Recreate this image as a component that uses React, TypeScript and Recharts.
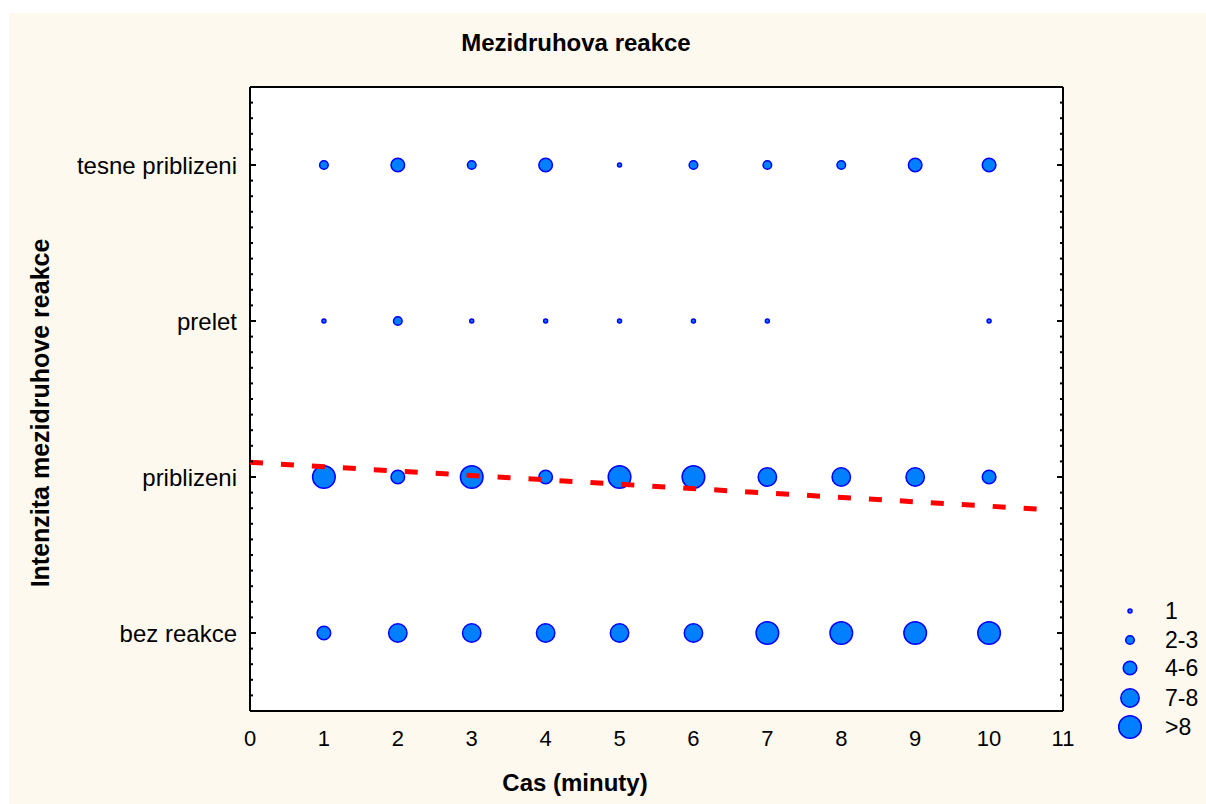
import React from 'react';
import { ScatterChart, Scatter, XAxis, YAxis, CartesianGrid } from 'recharts';

// ---------- data ----------
const minutes = [1, 2, 3, 4, 5, 6, 7, 8, 9, 10];
const categories = ['bez reakce', 'priblizeni', 'prelet', 'tesne priblizeni'];
// size class of each bubble (number of observations), per minute
const bezReakce = ['4-6', '7-8', '7-8', '7-8', '7-8', '7-8', '>8', '>8', '>8', '>8'];
const priblizeni = ['>8', '4-6', '>8', '4-6', '>8', '>8', '7-8', '7-8', '7-8', '4-6'];
const prelet = ['1', '2-3', '1', '1', '1', '1', '1', null, null, '1'];
const tesnePriblizeni = ['2-3', '4-6', '2-3', '4-6', '1', '2-3', '2-3', '2-3', '4-6', '4-6'];
const sizeClasses = ['1', '2-3', '4-6', '7-8', '>8'];
const xTicks = [0, 1, 2, 3, 4, 5, 6, 7, 8, 9, 10, 11];
const yTicks = [0, 1, 2, 3];
const trendX = [0, 10.75];
const trendY = [1.094, 0.792];

// ---------- derived ----------
const rows = [bezReakce, priblizeni, prelet, tesnePriblizeni];
const points = rows.flatMap((row, yi) =>
  row
    .map((cls, i) => (cls ? { x: minutes[i], y: yi, cls } : null))
    .filter((p) => p !== null)
);
const trend = trendX.map((x, i) => ({ x, y: trendY[i] }));
const xMinor = Array.from({ length: 45 }, (_, i) => i * 0.25);
const yMinor = Array.from({ length: 41 }, (_, i) => Math.round((-0.5 + i * 0.1) * 10) / 10);

const RADIUS: Record<string, number> = { '1': 2, '2-3': 4.3, '4-6': 6.8, '7-8': 9.2, '>8': 11.3 };
const FILL = '#0080ff';
const STROKE = '#0000ff';
const FONT = '"Liberation Sans", Arial, sans-serif';

const Bubble = (props: any) => {
  const { cx, cy, payload } = props;
  if (cx == null || cy == null) return <g />;
  const r = RADIUS[payload.cls];
  return <circle cx={cx} cy={cy} r={r} fill={FILL} stroke={STROKE} strokeWidth={1.5} />;
};

const tickLen = (v: number) => (Math.abs(v - Math.round(v)) < 1e-6 ? 6 : 3);

// inward tick marks drawn from the axis line position
const makeTick = (side: 'bottom' | 'top' | 'left' | 'right') => (p: any) => {
  const v = p.payload?.value ?? 0;
  const len = tickLen(v);
  const x = p.x;
  const y = p.y;
  let x2 = x;
  let y2 = y;
  if (side === 'bottom') y2 = y - len;
  if (side === 'top') y2 = y + len;
  if (side === 'left') x2 = x + len;
  if (side === 'right') x2 = x - len;
  return <line x1={x} y1={y} x2={x2} y2={y2} stroke="#000" strokeWidth={2} />;
};

const tickStyleX = { fill: '#000', fontSize: 22, fontFamily: FONT };
const tickStyleY = { fill: '#000', fontSize: 24, fontFamily: FONT };
const axisLineStyle = { stroke: '#000', strokeWidth: 2 };

export default function App() {
  return (
    <div style={{ position: 'absolute', left: 0, top: 0, width: 1206, height: 804, background: '#ffffff', overflow: 'hidden' }}>
      <div style={{ position: 'absolute', left: 9, top: 13, width: 1197, height: 791, background: '#fdf9ef' }} />
      <div style={{ position: 'absolute', left: 0, top: 0 }}>
        <ScatterChart width={1206} height={804} margin={{ top: 87, right: 143, bottom: 0, left: 10 }}>
          <CartesianGrid xAxisId="main" yAxisId="main" fill="#ffffff" horizontal={false} vertical={false} />
          <XAxis
            xAxisId="main"
            dataKey="x"
            type="number"
            domain={[0, 11]}
            ticks={xTicks}
            interval={0}
            allowDataOverflow
            height={93}
            tickLine={false}
            tickSize={0}
            tickMargin={19}
            axisLine={axisLineStyle}
            tick={tickStyleX}
          />
          <XAxis xAxisId="bIn" type="number" domain={[0, 11]} ticks={xMinor} interval={0} allowDataOverflow orientation="bottom" mirror height={1} tick={makeTick('bottom')} tickSize={0} tickMargin={0} axisLine={false} tickLine={false} />
          <XAxis xAxisId="tIn" type="number" domain={[0, 11]} ticks={xMinor} interval={0} allowDataOverflow orientation="top" mirror height={1} tick={makeTick('top')} tickSize={0} tickMargin={0} axisLine={axisLineStyle} tickLine={false} />
          <YAxis
            yAxisId="main"
            dataKey="y"
            type="number"
            domain={[-0.5, 3.5]}
            ticks={yTicks}
            interval={0}
            allowDataOverflow
            width={240}
            tickFormatter={(v: number) => categories[v]}
            tickLine={false}
            tickSize={0}
            tickMargin={13}
            axisLine={axisLineStyle}
            tick={tickStyleY}
          />
          <YAxis yAxisId="lIn" type="number" domain={[-0.5, 3.5]} ticks={yMinor} interval={0} allowDataOverflow orientation="left" mirror width={1} tick={makeTick('left')} tickSize={0} tickMargin={0} axisLine={false} tickLine={false} />
          <YAxis yAxisId="rIn" type="number" domain={[-0.5, 3.5]} ticks={yMinor} interval={0} allowDataOverflow orientation="right" mirror width={1} tick={makeTick('right')} tickSize={0} tickMargin={0} axisLine={axisLineStyle} tickLine={false} />
          <Scatter
            xAxisId="main"
            yAxisId="main"
            data={points}
            shape={Bubble}
            isAnimationActive={false}
          />
          <Scatter
            xAxisId="main"
            yAxisId="main"
            data={trend}
            line={{ stroke: '#ff0000', strokeWidth: 5, strokeDasharray: '13 18' }}
            lineType="joint"
            shape={() => <g />}
            isAnimationActive={false}
          />
        </ScatterChart>
      </div>
      {/* title */}
      <div style={{ position: 'absolute', left: 576, top: 43, transform: 'translate(-50%, -50%)', fontFamily: FONT, fontWeight: 'bold', fontSize: 24, whiteSpace: 'nowrap', color: '#000' }}>
        Mezidruhova reakce
      </div>
      {/* x label */}
      <div style={{ position: 'absolute', left: 575, top: 783, transform: 'translate(-50%, -50%)', fontFamily: FONT, fontWeight: 'bold', fontSize: 24, whiteSpace: 'nowrap', color: '#000' }}>
        Cas (minuty)
      </div>
      {/* y label */}
      <div style={{ position: 'absolute', left: 40, top: 413, transform: 'translate(-50%, -50%) rotate(-90deg)', fontFamily: FONT, fontWeight: 'bold', fontSize: 25, whiteSpace: 'nowrap', color: '#000' }}>
        Intenzita mezidruhove reakce
      </div>
      {/* legend */}
      {sizeClasses.map((cls, i) => {
        const cy = [611, 640, 668, 698, 727][i];
        return (
          <div key={cls} style={{ position: 'absolute', left: 1110, top: cy - 15, height: 30, display: 'flex', alignItems: 'center' }}>
            <svg width={40} height={30}>
              <circle cx={20} cy={15} r={RADIUS[cls]} fill={FILL} stroke={STROKE} strokeWidth={1.5} />
            </svg>
            <span style={{ marginLeft: 15, fontFamily: FONT, fontSize: 23, color: '#000' }}>{cls}</span>
          </div>
        );
      })}
    </div>
  );
}
